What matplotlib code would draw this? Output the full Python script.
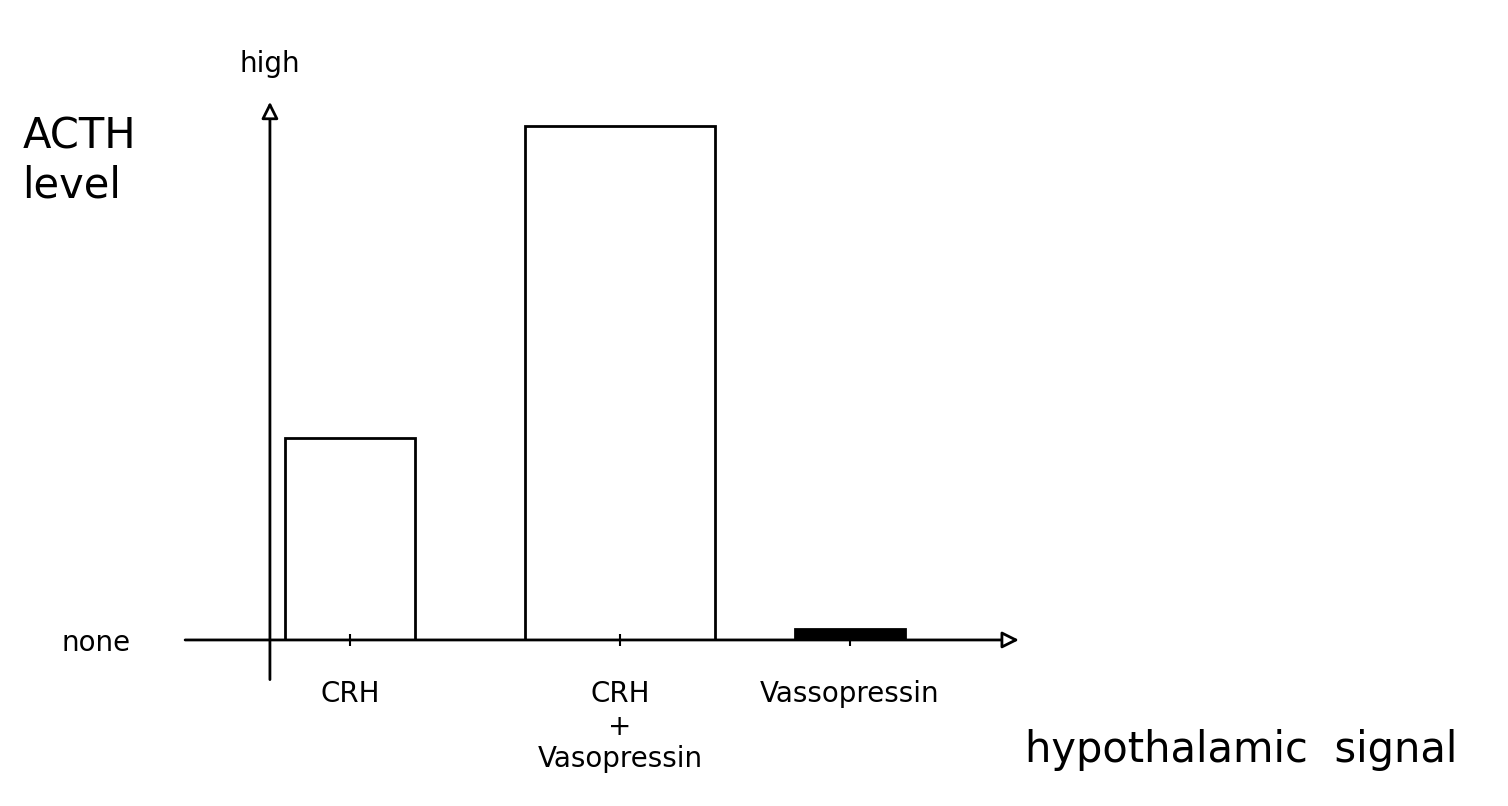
import matplotlib
matplotlib.use("Agg")
import matplotlib.pyplot as plt

# data (ACTH level, 0 = none, 1 = high)
signals = ["CRH", "CRH\n+\nVasopressin", "Vassopressin"]
acth_level = [0.38, 0.97, 0.02]

bar_pos = [1, 2.08, 3]
bar_width = [0.52, 0.76, 0.44]

fig = plt.figure(figsize=(15.08, 8.06), dpi=100)
ax = fig.add_axes([0.179, 0.206, 0.484, 0.658])

ax.bar(bar_pos, acth_level, width=bar_width, fill=False, edgecolor="black", linewidth=2)
ax.bar(bar_pos[2], acth_level[2], width=bar_width[2], color="black")

ax.set_xlim(0.68, 3.6)
ax.set_ylim(0, 1.0)
for s in ax.spines.values():
    s.set_visible(False)

# axes drawn as arrows
ax.annotate("", xy=(0, 1.02), xytext=(0, -0.08), xycoords="axes fraction",
            arrowprops=dict(arrowstyle="-|>", lw=2, color="black", mutation_scale=25,
                            fc="white"))
ax.annotate("", xy=(1.03, 0), xytext=(-0.12, 0), xycoords="axes fraction",
            arrowprops=dict(arrowstyle="-|>", lw=2, color="black", mutation_scale=25,
                            fc="white"))

ax.set_yticks([0])
ax.set_yticklabels(["none"], fontsize=20)
ax.tick_params(axis="y", length=0, pad=100)
ax.text(0.0, 1.06, "high", transform=ax.transAxes, fontsize=20, ha="center", va="bottom")
ax.set_xticks(bar_pos)
ax.set_xticklabels(signals, fontsize=20)
ax.tick_params(axis="x", length=8, width=1.5, pad=25, direction="inout")

fig.text(0.015, 0.80, "ACTH\nlevel", fontsize=30, ha="left", va="center")
fig.text(0.68, 0.07, "hypothalamic  signal", fontsize=30, ha="left", va="center")

plt.savefig("out.png")
